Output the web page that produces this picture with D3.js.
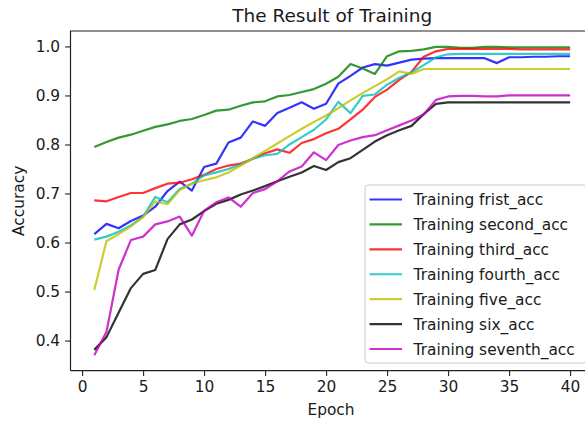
<!DOCTYPE html>
<html>
<head>
<meta charset="utf-8">
<script src="https://cdn.jsdelivr.net/npm/d3@7"></script>
<style>
  html, body { margin: 0; padding: 0; background: #fff; }
  text { font-family: "DejaVu Sans", sans-serif; fill: #1a1a1a; }
</style>
</head>
<body>
<svg id="chart" width="585" height="423"></svg>
<script>
const epochs = d3.range(1, 41);
const seriesNames = ["Training frist_acc", "Training second_acc", "Training third_acc",
  "Training fourth_acc", "Training five_acc", "Training six_acc", "Training seventh_acc"];
const seriesColors = ["#0000ff", "#008000", "#ff0000", "#00bfbf", "#bfbf00", "#000000", "#bf00bf"];

const firstAcc = [0.617, 0.638, 0.629, 0.644, 0.655, 0.673, 0.705, 0.724, 0.706, 0.754,
  0.761, 0.804, 0.814, 0.847, 0.838, 0.864, 0.875, 0.886, 0.873, 0.883,
  0.924, 0.940, 0.957, 0.964, 0.961, 0.967, 0.973, 0.975, 0.976, 0.976,
  0.976, 0.976, 0.976, 0.966, 0.978, 0.978, 0.979, 0.979, 0.980, 0.980];
const secondAcc = [0.795, 0.805, 0.814, 0.820, 0.828, 0.836, 0.841, 0.848, 0.852, 0.860,
  0.869, 0.871, 0.879, 0.886, 0.888, 0.898, 0.901, 0.907, 0.913, 0.924,
  0.938, 0.964, 0.955, 0.944, 0.980, 0.990, 0.991, 0.994, 0.999, 0.999,
  0.997, 0.997, 0.999, 0.999, 0.998, 0.998, 0.998, 0.998, 0.998, 0.998];
const thirdAcc = [0.686, 0.684, 0.693, 0.701, 0.701, 0.711, 0.720, 0.722, 0.729, 0.738,
  0.750, 0.757, 0.761, 0.771, 0.782, 0.790, 0.783, 0.803, 0.811, 0.823,
  0.832, 0.851, 0.871, 0.897, 0.912, 0.932, 0.948, 0.979, 0.990, 0.995,
  0.995, 0.995, 0.995, 0.995, 0.995, 0.994, 0.994, 0.994, 0.994, 0.994];
const fourthAcc = [0.606, 0.612, 0.622, 0.635, 0.653, 0.693, 0.682, 0.709, 0.720, 0.737,
  0.743, 0.750, 0.759, 0.771, 0.778, 0.781, 0.800, 0.815, 0.830, 0.851,
  0.887, 0.864, 0.899, 0.902, 0.922, 0.936, 0.947, 0.962, 0.978, 0.984,
  0.985, 0.985, 0.985, 0.985, 0.985, 0.985, 0.985, 0.985, 0.985, 0.985];
const fiveAcc = [0.503, 0.603, 0.617, 0.633, 0.652, 0.684, 0.678, 0.707, 0.720, 0.727,
  0.733, 0.743, 0.757, 0.772, 0.787, 0.802, 0.817, 0.832, 0.846, 0.859,
  0.874, 0.890, 0.905, 0.919, 0.933, 0.949, 0.944, 0.954, 0.954, 0.954,
  0.954, 0.954, 0.954, 0.954, 0.954, 0.954, 0.954, 0.954, 0.954, 0.954];
const sixAcc = [0.381, 0.407, 0.457, 0.507, 0.536, 0.544, 0.607, 0.637, 0.647, 0.664,
  0.679, 0.687, 0.698, 0.706, 0.715, 0.725, 0.734, 0.743, 0.756, 0.748,
  0.764, 0.772, 0.789, 0.806, 0.819, 0.829, 0.838, 0.862, 0.883, 0.886,
  0.886, 0.886, 0.886, 0.886, 0.886, 0.886, 0.886, 0.886, 0.886, 0.886];
const seventhAcc = [0.370, 0.418, 0.545, 0.605, 0.612, 0.637, 0.643, 0.653, 0.614, 0.665,
  0.682, 0.692, 0.673, 0.701, 0.709, 0.725, 0.745, 0.755, 0.784, 0.768,
  0.799, 0.808, 0.815, 0.819, 0.829, 0.839, 0.849, 0.861, 0.891, 0.898,
  0.899, 0.899, 0.898, 0.898, 0.900, 0.900, 0.900, 0.900, 0.900, 0.900];

const seriesValues = [firstAcc, secondAcc, thirdAcc, fourthAcc, fiveAcc, sixAcc, seventhAcc];
const xTicks = [0, 5, 10, 15, 20, 25, 30, 35, 40];
const yTicks = [0.4, 0.5, 0.6, 0.7, 0.8, 0.9, 1.0];
const titleText = "The Result of Training";
const xLabel = "Epoch";
const yLabel = "Accuracy";

// layout
const L = 70.5, R = 593.9, T = 31, B = 370.7;
const fs = 15.4;

const svg = d3.select("#chart");
svg.append("rect").attr("width", 585).attr("height", 423).attr("fill", "#fff");

const x = d3.scaleLinear().domain([-0.95, 41.95]).range([L, R]);
const y = d3.scaleLinear().domain([0.3385, 1.0315]).range([B, T]);

// lines
const line = d3.line().x((d, i) => x(epochs[i])).y(d => y(d));
const g = svg.append("g");
seriesValues.forEach((vals, k) => {
  g.append("path").datum(vals)
    .attr("d", line)
    .attr("fill", "none")
    .attr("stroke", seriesColors[k])
    .attr("stroke-opacity", 0.8)
    .attr("stroke-width", 2.2)
    .attr("stroke-linejoin", "round")
    .attr("stroke-linecap", "butt");
});

// axes
const xAxis = d3.axisBottom(x).tickValues(xTicks).tickFormat(d3.format("d"))
  .tickSizeInner(5.4).tickSizeOuter(0).tickPadding(5);
const yAxis = d3.axisLeft(y).tickValues(yTicks).tickFormat(d3.format(".1f"))
  .tickSizeInner(5.4).tickSizeOuter(0).tickPadding(5);

const gx = svg.append("g").attr("transform", `translate(0,${B})`).call(xAxis);
const gy = svg.append("g").attr("transform", `translate(${L},0)`).call(yAxis);
[gx, gy].forEach(a => {
  a.select(".domain").remove();
  a.selectAll(".tick line").attr("stroke", "#222").attr("stroke-width", 1.1);
  a.selectAll(".tick text").attr("font-size", fs).attr("font-family", "DejaVu Sans").attr("fill", "#1a1a1a");
});

// spines
svg.append("path")
  .attr("d", `M${L},${B}H${R}M${L},${B}V${T}H${R}V${B}`)
  .attr("fill", "none").attr("stroke", "#222").attr("stroke-width", 1.2);

// title & labels
svg.append("text").attr("x", (L + R) / 2).attr("y", 21.5).attr("text-anchor", "middle")
  .attr("font-size", 18.5).text(titleText);
svg.append("text").attr("x", 331).attr("y", 415).attr("text-anchor", "middle")
  .attr("font-size", fs).text(xLabel);
svg.append("text").attr("transform", `translate(23.5,${(T + B) / 2}) rotate(-90)`)
  .attr("text-anchor", "middle").attr("font-size", fs).text(yLabel);

// legend
const lg = svg.append("g");
lg.append("rect").attr("x", 365).attr("y", 185).attr("width", 221).attr("height", 178)
  .attr("rx", 3).attr("fill", "#fff").attr("fill-opacity", 0.8)
  .attr("stroke", "#cccccc").attr("stroke-width", 1);
const rowY = d3.scaleLinear().domain([0, 6]).range([199.5, 349]);
seriesNames.forEach((name, k) => {
  const yy = rowY(k);
  lg.append("line").attr("x1", 369.5).attr("x2", 402).attr("y1", yy).attr("y2", yy)
    .attr("stroke", seriesColors[k]).attr("stroke-opacity", 0.8).attr("stroke-width", 2.2);
  lg.append("text").attr("x", 413.5).attr("y", yy + 5.5).attr("font-size", fs).text(name);
});
</script>
</body>
</html>
